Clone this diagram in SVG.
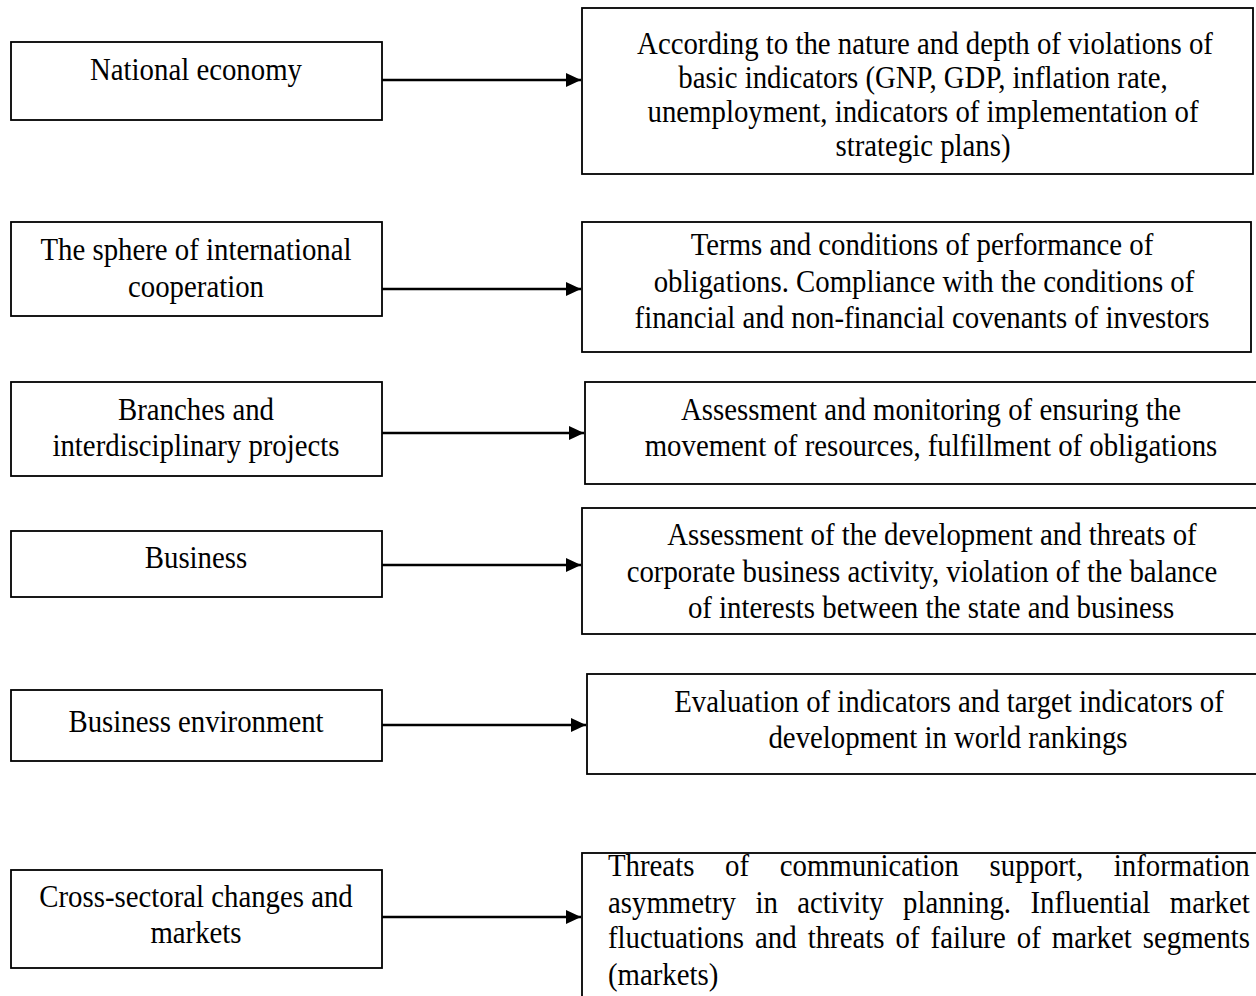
<svg xmlns="http://www.w3.org/2000/svg" width="1256" height="996" viewBox="0 0 1256 996">
<defs>
<marker id="ah" viewBox="0 0 15 14" refX="15" refY="7" markerWidth="15" markerHeight="14" markerUnits="userSpaceOnUse" orient="auto">
<path d="M0,0 L15,7 L0,14 Z" fill="#000"/>
</marker>
<style>
rect{fill:#fff;stroke:#000;stroke-width:1.8}
text{font-family:"Liberation Serif","Times New Roman",serif;font-size:32px;fill:#000}
.c{text-anchor:middle}
.conn line{stroke:#000;stroke-width:2.4;marker-end:url(#ah)}
</style>
</defs>
<rect x="0" y="0" width="1256" height="996" style="stroke:none"/>
<g id="l1"><rect x="11" y="42" width="371" height="78"/><text class="c" transform="matrix(0.9 0 0 1 196 0)" x="0" y="80">National economy</text></g>
<g id="r1"><rect x="582" y="8" width="671" height="166"/>
<text class="c" transform="matrix(0.9 0 0 1 925 0)" x="0" y="54">According to the nature and depth of violations of</text>
<text class="c" transform="matrix(0.9 0 0 1 923 0)" x="0" y="88">basic indicators (GNP, GDP, inflation rate,</text>
<text class="c" transform="matrix(0.9 0 0 1 923 0)" x="0" y="122">unemployment, indicators of implementation of</text>
<text class="c" transform="matrix(0.9 0 0 1 923 0)" x="0" y="156">strategic plans)</text></g>
<g id="l2"><rect x="11" y="222" width="371" height="94"/>
<text class="c" transform="matrix(0.9 0 0 1 196 0)" x="0" y="260">The sphere of international</text>
<text class="c" transform="matrix(0.9 0 0 1 196 0)" x="0" y="297">cooperation</text></g>
<g id="r2"><rect x="582" y="222" width="669" height="130"/>
<text class="c" transform="matrix(0.9 0 0 1 922 0)" x="0" y="255">Terms and conditions of performance of</text>
<text class="c" transform="matrix(0.9 0 0 1 924 0)" x="0" y="292">obligations. Compliance with the conditions of</text>
<text class="c" transform="matrix(0.9 0 0 1 922 0)" x="0" y="328">financial and non-financial covenants of investors</text></g>
<g id="l3"><rect x="11" y="382" width="371" height="94"/>
<text class="c" transform="matrix(0.9 0 0 1 196 0)" x="0" y="420">Branches and</text>
<text class="c" transform="matrix(0.9 0 0 1 196 0)" x="0" y="456">interdisciplinary projects</text></g>
<g id="r3"><rect x="585" y="382" width="675" height="102"/>
<text class="c" transform="matrix(0.9 0 0 1 931 0)" x="0" y="420">Assessment and monitoring of ensuring the</text>
<text class="c" transform="matrix(0.9 0 0 1 931 0)" x="0" y="456">movement of resources, fulfillment of obligations</text></g>
<g id="l4"><rect x="11" y="531" width="371" height="66"/>
<text class="c" transform="matrix(0.9 0 0 1 196 0)" x="0" y="568">Business</text></g>
<g id="r4"><rect x="582" y="508" width="678" height="126"/>
<text class="c" transform="matrix(0.9 0 0 1 932 0)" x="0" y="545">Assessment of the development and threats of</text>
<text class="c" transform="matrix(0.9 0 0 1 922 0)" x="0" y="582">corporate business activity, violation of the balance</text>
<text class="c" transform="matrix(0.9 0 0 1 931 0)" x="0" y="618">of interests between the state and business</text></g>
<g id="l5"><rect x="11" y="690" width="371" height="71"/>
<text class="c" transform="matrix(0.9 0 0 1 196 0)" x="0" y="732">Business environment</text></g>
<g id="r5"><rect x="587" y="674" width="673" height="100"/>
<text class="c" transform="matrix(0.9 0 0 1 949 0)" x="0" y="712">Evaluation of indicators and target indicators of</text>
<text class="c" transform="matrix(0.9 0 0 1 948 0)" x="0" y="748">development in world rankings</text></g>
<g id="l6"><rect x="11" y="870" width="371" height="98"/>
<text class="c" transform="matrix(0.9 0 0 1 196 0)" x="0" y="907">Cross-sectoral changes and</text>
<text class="c" transform="matrix(0.9 0 0 1 196 0)" x="0" y="943">markets</text></g>
<g id="r6"><rect x="582" y="853" width="680" height="150"/>
<text transform="matrix(0.9 0 0 1 608 0)" x="0" y="876" word-spacing="26.1">Threats of communication support, information</text>
<text transform="matrix(0.9 0 0 1 608 0)" x="0" y="913" word-spacing="13.6">asymmetry in activity planning. Influential market</text>
<text transform="matrix(0.9 0 0 1 608 0)" x="0" y="948" word-spacing="4.3">fluctuations and threats of failure of market segments</text>
<text transform="matrix(0.9 0 0 1 608 0)" x="0" y="985">(markets)</text></g>
<g id="connectors" class="conn">
<line x1="382" y1="80" x2="581" y2="80"/>
<line x1="382" y1="289" x2="581" y2="289"/>
<line x1="382" y1="433" x2="584" y2="433"/>
<line x1="382" y1="565" x2="581" y2="565"/>
<line x1="382" y1="725" x2="586" y2="725"/>
<line x1="382" y1="917" x2="581" y2="917"/>
</g>
</svg>
